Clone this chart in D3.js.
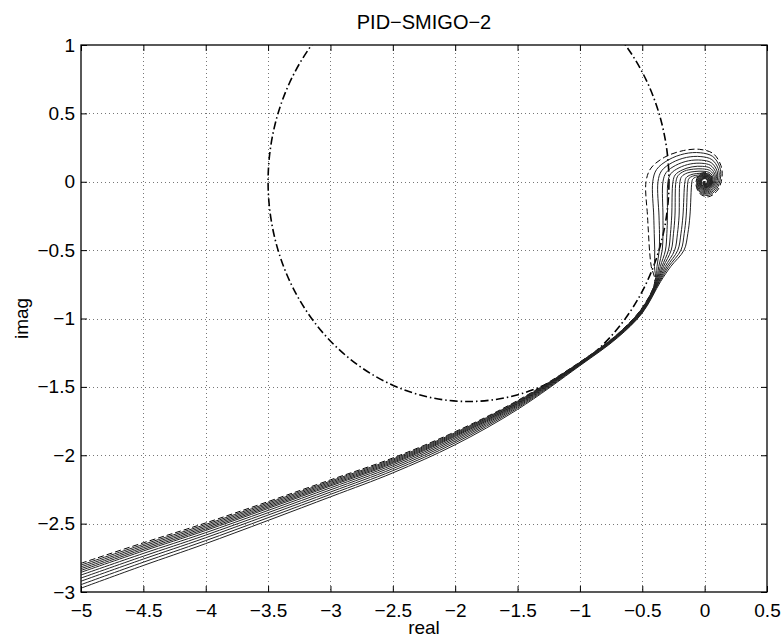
<!DOCTYPE html>
<html>
<head>
<meta charset="utf-8">
<script src="https://cdn.jsdelivr.net/npm/d3@7"></script>
<style>
  body { margin: 0; background: #fff; }
  svg { font-family: "Liberation Sans", Arial, sans-serif; }
</style>
</head>
<body>
<div id="chart"></div>
<script>
// ---- data ----
const xTicks = [-5, -4.5, -4, -3.5, -3, -2.5, -2, -1.5, -1, -0.5, 0, 0.5];
const yTicks = [-3, -2.5, -2, -1.5, -1, -0.5, 0, 0.5, 1];

// low frequency branch: shared X positions, one Y row per curve (curve 0 is the dashed one)
const branchX = [-5, -4.5, -4, -3, -2.5, -2, -1.5, -1, -0.7, -0.5];
const branchY = [
  [-2.790, -2.640, -2.495, -2.180, -2.020, -1.828, -1.600, -1.318, -1.115, -0.920],
  [-2.803, -2.652, -2.506, -2.189, -2.028, -1.835, -1.605, -1.320, -1.117, -0.924],
  [-2.816, -2.664, -2.517, -2.198, -2.036, -1.842, -1.610, -1.322, -1.119, -0.928],
  [-2.829, -2.676, -2.528, -2.207, -2.044, -1.849, -1.615, -1.324, -1.121, -0.932],
  [-2.842, -2.688, -2.539, -2.216, -2.052, -1.856, -1.620, -1.326, -1.123, -0.936],
  [-2.856, -2.700, -2.550, -2.225, -2.060, -1.863, -1.625, -1.328, -1.125, -0.940],
  [-2.876, -2.718, -2.566, -2.238, -2.071, -1.873, -1.631, -1.331, -1.128, -0.944],
  [-2.898, -2.738, -2.584, -2.253, -2.084, -1.884, -1.638, -1.334, -1.131, -0.948],
  [-2.921, -2.759, -2.603, -2.269, -2.098, -1.896, -1.646, -1.337, -1.134, -0.952],
  [-2.946, -2.782, -2.624, -2.286, -2.113, -1.909, -1.655, -1.341, -1.138, -0.956],
  [-2.972, -2.806, -2.646, -2.304, -2.129, -1.923, -1.665, -1.345, -1.142, -0.960]
];

// where the curves fan out: X at each of these Y levels
const fanY = [-0.73, -0.62, -0.5, -0.38, -0.25];
const fanX = [
  [-0.400, -0.428, -0.442, -0.450, -0.458],
  [-0.396, -0.402, -0.400, -0.404, -0.408],
  [-0.392, -0.382, -0.364, -0.362, -0.366],
  [-0.388, -0.368, -0.340, -0.334, -0.334],
  [-0.384, -0.355, -0.314, -0.303, -0.298],
  [-0.380, -0.342, -0.290, -0.274, -0.264],
  [-0.376, -0.330, -0.268, -0.250, -0.238],
  [-0.371, -0.316, -0.240, -0.218, -0.205],
  [-0.366, -0.302, -0.215, -0.190, -0.174],
  [-0.360, -0.288, -0.190, -0.164, -0.148],
  [-0.353, -0.272, -0.165, -0.135, -0.118]
];

// loops spiralling into the origin, one list per curve
const spirals = [
  [[-0.470,0],[-0.430,0.100],[-0.320,0.180],[-0.170,0.228],[-0.040,0.237],[0.070,0.205],[0.130,0.120],[0.140,0.040],[0.105,-0.060],[0.030,-0.110],[-0.040,-0.085],[-0.070,-0.010],[-0.040,0.055],[0.020,0.065],[0.065,0.020],[0.045,-0.035],[0.005,-0.040],[-0.015,-0.005],[0,0]],
  [[-0.416,0],[-0.385,0.090],[-0.290,0.160],[-0.160,0.205],[-0.035,0.212],[0.065,0.185],[0.120,0.110],[0.128,0.035],[0.095,-0.055],[0.028,-0.100],[-0.037,-0.078],[-0.064,-0.010],[-0.036,0.050],[0.018,0.058],[0.058,0.018],[0.040,-0.032],[0.004,-0.036],[-0.013,-0.004],[0,0]],
  [[-0.374,0],[-0.345,0.080],[-0.260,0.140],[-0.145,0.178],[-0.030,0.184],[0.058,0.162],[0.108,0.098],[0.116,0.030],[0.086,-0.050],[0.026,-0.090],[-0.034,-0.071],[-0.058,-0.009],[-0.033,0.045],[0.016,0.052],[0.052,0.016],[0.036,-0.029],[0.004,-0.032],[-0.012,-0.004],[0,0]],
  [[-0.334,0],[-0.308,0.068],[-0.232,0.120],[-0.130,0.153],[-0.026,0.158],[0.052,0.140],[0.097,0.085],[0.104,0.027],[0.078,-0.045],[0.024,-0.082],[-0.031,-0.064],[-0.052,-0.008],[-0.030,0.040],[0.014,0.047],[0.047,0.014],[0.032,-0.026],[0.003,-0.029],[-0.011,-0.003],[0,0]],
  [[-0.294,0],[-0.272,0.058],[-0.205,0.102],[-0.115,0.130],[-0.022,0.135],[0.047,0.120],[0.087,0.074],[0.094,0.024],[0.070,-0.040],[0.022,-0.074],[-0.028,-0.058],[-0.047,-0.007],[-0.027,0.036],[0.013,0.042],[0.042,0.013],[0.029,-0.023],[0.003,-0.026],[-0.010,-0.003],[0,0]],
  [[-0.254,0],[-0.236,0.050],[-0.180,0.086],[-0.100,0.109],[-0.019,0.113],[0.042,0.101],[0.078,0.063],[0.085,0.021],[0.063,-0.036],[0.020,-0.067],[-0.025,-0.052],[-0.042,-0.006],[-0.024,0.032],[0.012,0.038],[0.038,0.012],[0.026,-0.021],[0.002,-0.023],[-0.009,-0.003],[0,0]],
  [[-0.230,0],[-0.213,0.045],[-0.162,0.078],[-0.090,0.092],[-0.016,0.094],[0.038,0.084],[0.070,0.054],[0.077,0.019],[0.057,-0.033],[0.018,-0.061],[-0.023,-0.047],[-0.038,-0.006],[-0.022,0.029],[0.011,0.034],[0.034,0.011],[0.023,-0.019],[0.002,-0.021],[-0.008,-0.002],[0,0]],
  [[-0.198,0],[-0.184,0.038],[-0.140,0.064],[-0.078,0.075],[-0.013,0.077],[0.034,0.069],[0.062,0.045],[0.068,0.017],[0.051,-0.029],[0.016,-0.055],[-0.021,-0.042],[-0.034,-0.005],[-0.020,0.026],[0.010,0.030],[0.030,0.010],[0.021,-0.017],[0.002,-0.019],[-0.007,-0.002],[0,0]],
  [[-0.158,0],[-0.148,0.030],[-0.114,0.050],[-0.064,0.060],[-0.010,0.062],[0.030,0.056],[0.055,0.037],[0.061,0.015],[0.046,-0.026],[0.015,-0.049],[-0.019,-0.038],[-0.031,-0.005],[-0.018,0.023],[0.009,0.027],[0.027,0.009],[0.019,-0.015],[0.002,-0.017],[-0.006,-0.002],[0,0]],
  [[-0.134,0],[-0.125,0.025],[-0.096,0.041],[-0.054,0.049],[-0.008,0.050],[0.027,0.046],[0.049,0.031],[0.055,0.013],[0.041,-0.023],[0.013,-0.044],[-0.017,-0.034],[-0.028,-0.004],[-0.016,0.021],[0.008,0.024],[0.024,0.008],[0.017,-0.013],[0.002,-0.015],[-0.006,-0.002],[0,0]],
  [[-0.102,0],[-0.095,0.020],[-0.074,0.033],[-0.042,0.040],[-0.006,0.041],[0.024,0.038],[0.044,0.026],[0.049,0.011],[0.037,-0.020],[0.012,-0.040],[-0.015,-0.031],[-0.025,-0.004],[-0.014,0.019],[0.007,0.022],[0.022,0.007],[0.015,-0.012],[0.001,-0.013],[-0.005,-0.002],[0,0]]
];

// robustness circle (dash-dot)
const circleCenter = [-1.893, 0];
const circleRadius = 1.607;

// ---- layout ----
const W = 782, H = 639;
const margin = { left: 81, right: 15, top: 45, bottom: 47 };

const svg = d3.select("#chart").append("svg")
    .attr("width", W)
    .attr("height", H);

const xScale = d3.scaleLinear().domain([-5, 0.5]).range([margin.left, W - margin.right]);
const yScale = d3.scaleLinear().domain([-3, 1]).range([H - margin.bottom, margin.top]);

const x0 = xScale.range()[0], x1 = xScale.range()[1];
const yTop = yScale.range()[1], yBot = yScale.range()[0];

svg.append("defs").append("clipPath").attr("id", "plotclip")
  .append("rect")
    .attr("x", x0).attr("y", yTop)
    .attr("width", x1 - x0).attr("height", yBot - yTop);

// grid (dotted)
const grid = svg.append("g").attr("class", "grid")
    .attr("stroke", "#777").attr("stroke-width", 1).attr("stroke-dasharray", "1,3");

grid.selectAll("line.gx")
  .data(xTicks.filter(d => d > -5 && d < 0.5))
  .join("line")
    .attr("class", "gx")
    .attr("x1", d => Math.round(xScale(d)) + 0.5).attr("x2", d => Math.round(xScale(d)) + 0.5)
    .attr("y1", yTop).attr("y2", yBot);

grid.selectAll("line.gy")
  .data(yTicks.filter(d => d > -3 && d < 1))
  .join("line")
    .attr("class", "gy")
    .attr("y1", d => Math.round(yScale(d)) + 0.5).attr("y2", d => Math.round(yScale(d)) + 0.5)
    .attr("x1", x0).attr("x2", x1);

const plot = svg.append("g").attr("clip-path", "url(#plotclip)");

// dash-dot circle
plot.append("ellipse")
    .attr("cx", xScale(circleCenter[0]))
    .attr("cy", yScale(circleCenter[1]))
    .attr("rx", xScale(circleCenter[0] + circleRadius) - xScale(circleCenter[0]))
    .attr("ry", yScale(circleCenter[1] - circleRadius) - yScale(circleCenter[1]))
    .attr("fill", "none")
    .attr("stroke", "#000")
    .attr("stroke-width", 1.6)
    .attr("stroke-dasharray", "8,3,1.5,3");

// assemble each curve from its pieces
const curves = branchY.map((ys, k) => {
    const pts = branchX.map((bx, i) => [bx, ys[i]]);
    fanY.forEach((fy, i) => pts.push([fanX[k][i], fy]));
    return pts.concat(spirals[k]);
});

const line = d3.line()
    .x(d => xScale(d[0]))
    .y(d => yScale(d[1]))
    .curve(d3.curveCatmullRom.alpha(0.5));

plot.selectAll("path.nyq")
  .data(curves)
  .join("path")
    .attr("class", "nyq")
    .attr("d", line)
    .attr("fill", "none")
    .attr("stroke", (d, i) => i === 0 ? "#000" : "#222")
    .attr("stroke-width", 1)
    .attr("stroke-dasharray", (d, i) => i === 0 ? "6,3" : null);

// axes with inward ticks on all four sides
const fmt = d3.format("");
const tickLen = 6;

const axB = svg.append("g")
    .attr("transform", `translate(0,${yBot})`)
    .call(d3.axisBottom(xScale).tickValues(xTicks).tickFormat(fmt).tickSize(-tickLen).tickSizeOuter(0).tickPadding(12));
const axT = svg.append("g")
    .attr("transform", `translate(0,${yTop})`)
    .call(d3.axisTop(xScale).tickValues(xTicks).tickFormat("").tickSize(-tickLen).tickSizeOuter(0));
const axL = svg.append("g")
    .attr("transform", `translate(${x0},0)`)
    .call(d3.axisLeft(yScale).tickValues(yTicks).tickFormat(fmt).tickSize(-tickLen).tickSizeOuter(0).tickPadding(6));
const axR = svg.append("g")
    .attr("transform", `translate(${x1},0)`)
    .call(d3.axisRight(yScale).tickValues(yTicks).tickFormat("").tickSize(-tickLen).tickSizeOuter(0));

[axB, axT, axL, axR].forEach(a => {
    a.select(".domain").remove();
    a.selectAll("line").attr("stroke", "#000");
    a.selectAll("text").attr("fill", "#000").style("font-size", "19px");
});

// box
svg.append("rect")
    .attr("x", x0).attr("y", yTop)
    .attr("width", x1 - x0).attr("height", yBot - yTop)
    .attr("fill", "none").attr("stroke", "#000").attr("stroke-width", 1.3);

// titles
svg.append("text")
    .attr("x", (x0 + x1) / 2).attr("y", 29)
    .attr("text-anchor", "middle")
    .style("font-size", "20px")
    .text("PID\u2212SMIGO\u22122");

svg.append("text")
    .attr("x", (x0 + x1) / 2).attr("y", 634)
    .attr("text-anchor", "middle")
    .style("font-size", "19px")
    .text("real");

svg.append("text")
    .attr("transform", `translate(28,${(yTop + yBot) / 2}) rotate(-90)`)
    .attr("text-anchor", "middle")
    .style("font-size", "19px")
    .text("imag");
</script>
</body>
</html>
